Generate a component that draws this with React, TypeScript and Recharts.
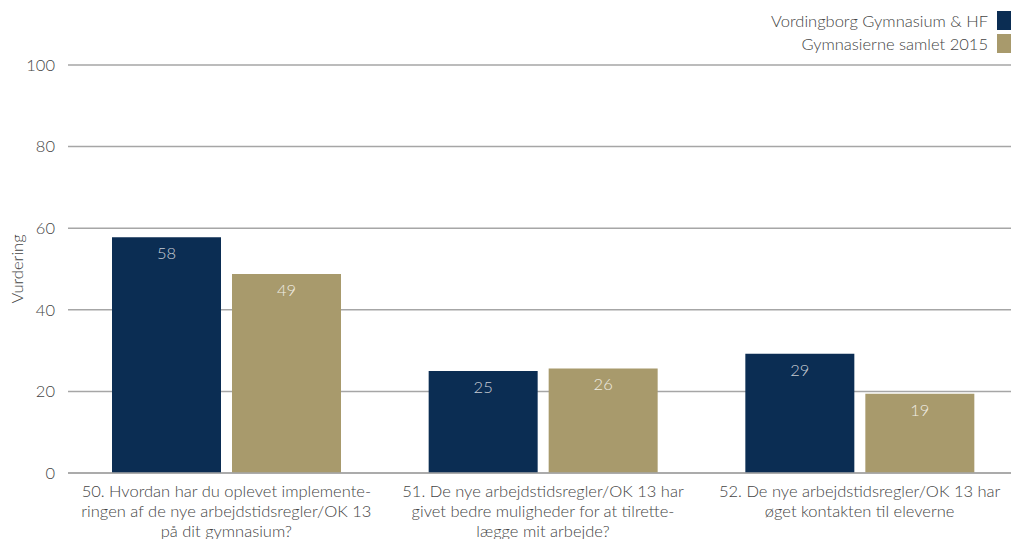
import { BarChart, Bar, XAxis, YAxis, CartesianGrid, LabelList } from 'recharts'

const categories = [
  '50. Hvordan har du oplevet implemente-\nringen af de nye arbejdstidsregler/OK 13\npå dit gymnasium?',
  '51. De nye arbejdstidsregler/OK 13 har\ngivet bedre muligheder for at tilrette-\nlægge mit arbejde?',
  '52. De nye arbejdstidsregler/OK 13 har\nøget kontakten til eleverne',
]
const vordingborg = [57.8, 25.0, 29.2]
const samlet = [48.8, 25.6, 19.4]
const seriesNames = ['Vordingborg Gymnasium & HF', 'Gymnasierne samlet 2015']
const colors = ['#0b2d53', '#a89a6c']
const yTicks = [0, 20, 40, 60, 80, 100]

const data = categories.map((c, i) => ({ name: c, a: vordingborg[i], b: samlet[i] }))

const font = 'Lato, "Open Sans", sans-serif'
const fs = 16.5

function CategoryTick({ x, y, payload }: any) {
  const lines = String(payload.value).split('\n')
  return (
    <text x={x} y={y} textAnchor="middle" fill="#444" fontSize={fs} fontFamily={font} fontWeight={300}>
      {lines.map((l, i) => (
        <tspan key={i} x={x} dy={i === 0 ? 16 : 20}>
          {l}
        </tspan>
      ))}
    </text>
  )
}

export default function App() {
  return (
    <div style={{ position: 'absolute', left: 0, top: 0, width: 1011, height: 560, overflow: 'hidden', background: '#fff' }}>
      <div style={{ position: 'absolute', top: 9, right: 0, fontFamily: font, fontWeight: 300, fontSize: fs, color: '#444', zIndex: 2 }}>
        {seriesNames.map((n, i) => (
          <div key={n} style={{ display: 'flex', alignItems: 'center', justifyContent: 'flex-end', height: 23 }}>
            <span style={{ marginRight: 9 }}>{n}</span>
            <span style={{ width: 14, height: 19, background: colors[i], display: 'inline-block' }} />
          </div>
        ))}
      </div>
      <BarChart
        width={1018}
        height={560}
        data={data}
        margin={{ top: 65, right: 0, bottom: 0, left: 0 }}
        barSize={109}
        barGap={11}
      >
        <CartesianGrid vertical={false} stroke="#a6a6a6" strokeWidth={1.5} />
        <XAxis
          dataKey="name"
          height={87}
          tick={<CategoryTick />}
          tickLine={false}
          axisLine={{ stroke: '#a6a6a6', strokeWidth: 1.5 }}
          interval={0}
        />
        <YAxis
          domain={[0, 100]}
          ticks={yTicks}
          width={68}
          axisLine={false}
          tickLine={false}
          tickSize={0}
          tickMargin={13}
          tick={{ fill: '#444', fontSize: fs, fontFamily: font, fontWeight: 300 }}
          label={{ value: 'Vurdering', angle: -90, position: 'center', dx: -17, fill: '#444', fontSize: fs, fontFamily: font, fontWeight: 300 }}
        />
        <Bar dataKey="a" name={seriesNames[0]} fill={colors[0]} isAnimationActive={false}>
          <LabelList dataKey="a" position="insideTop" offset={10} fill="#c8ccd4" fontSize={fs} fontFamily={font} fontWeight={300} formatter={(v: any) => Math.round(v)} />
        </Bar>
        <Bar dataKey="b" name={seriesNames[1]} fill={colors[1]} isAnimationActive={false}>
          <LabelList dataKey="b" position="insideTop" offset={10} fill="#f0ede4" fontSize={fs} fontFamily={font} fontWeight={300} formatter={(v: any) => Math.round(v)} />
        </Bar>
      </BarChart>
    </div>
  )
}
